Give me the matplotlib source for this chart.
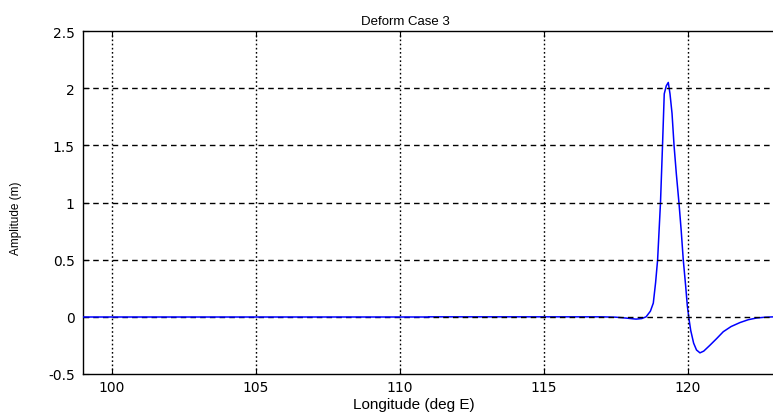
import numpy as np
import matplotlib
matplotlib.use("Agg")
import matplotlib.pyplot as plt
from matplotlib import font_manager

plt.rcParams["font.family"] = ["Liberation Sans", "DejaVu Sans"]

# flat part of the profile (drawn above the grid)
lon_flat = [99.0, 105.0, 111.0]
amp_flat = [0.0, 0.0, 0.0]

# deformation profile
lon = [111.0, 112.0, 113.0, 114.0, 115.0, 116.0, 117.0, 117.5, 117.9, 118.2,
       118.4, 118.55, 118.7, 118.8, 118.88, 118.95, 119.0, 119.05, 119.12, 119.18,
       119.25, 119.32, 119.38, 119.45, 119.52, 119.6, 119.69, 119.77, 119.84, 119.92,
       119.98, 120.04, 120.1, 120.2, 120.3, 120.42, 120.55, 120.76, 121.0, 121.23,
       121.5, 121.81, 122.1, 122.39, 122.7, 123.0]
amp = [0.0, 0.0, 0.0, 0.0, 0.0, 0.0, 0.0, -0.003, -0.012, -0.02,
       -0.015, 0.0, 0.05, 0.12, 0.30, 0.50, 0.75, 1.00, 1.50, 1.95,
       2.02, 2.05, 1.95, 1.78, 1.50, 1.25, 1.00, 0.75, 0.50, 0.28,
       0.10, -0.02, -0.12, -0.23, -0.29, -0.315, -0.30, -0.25, -0.19, -0.13,
       -0.085, -0.05, -0.025, -0.01, -0.003, 0.0]

xticks = [100, 105, 110, 115, 120]
yticks = [-0.5, 0, 0.5, 1, 1.5, 2, 2.5]
ytick_labels = ["-0.5", "0", "0.5", "1", "1.5", "2", "2.5"]

# narrow face for the y label if there is one
names = {f.name for f in font_manager.fontManager.ttflist}
ylab_family = "Liberation Sans Narrow" if "Liberation Sans Narrow" in names else "Liberation Sans"
ylab_size = 9.5 if ylab_family == "Liberation Sans Narrow" else 8.5

fig = plt.figure(figsize=(7.73, 4.14), dpi=100)
ax = fig.add_axes([83 / 773, 39 / 414, 693 / 773, 343 / 414])

ax.plot(lon, amp, color="#0000ff", lw=1.1, zorder=1)
ax.plot(lon_flat, amp_flat, color="#0000ff", lw=1.1, zorder=3)

ax.set_xlim(99, 123.06)
ax.set_ylim(-0.5, 2.5)
ax.set_xticks(xticks)
ax.set_yticks(yticks)
ax.set_yticklabels(ytick_labels)

# grid: dotted verticals, dashed horizontals
for xv in xticks:
    ax.axvline(xv, color="black", lw=1.0, ls=(0, (1.2, 1.8)), zorder=2)
for yv in yticks[1:-1]:
    ax.axhline(yv, color="black", lw=1.0, ls=(0, (4, 3)), zorder=2)

ax.tick_params(direction="in", length=4, top=True, right=False)
ax.tick_params(axis="x", pad=4)
ax.tick_params(axis="y", pad=6)
for lab in ax.get_xticklabels() + ax.get_yticklabels():
    lab.set_family("DejaVu Sans")
    lab.set_fontsize(10)
ax.spines["right"].set_visible(False)
for s in ["left", "bottom", "top"]:
    ax.spines[s].set_linewidth(1.0)

ax.set_title("Deform Case 3", fontsize=9.5, x=0.465, pad=5)
ax.set_xlabel("Longitude (deg E)", fontsize=11)
ax.xaxis.set_label_coords(0.477, -0.068)
ax.set_ylabel("Amplitude (m)", fontsize=ylab_size, family=ylab_family)
ax.yaxis.set_label_coords(-0.088, 0.458)

fig.savefig("out.png", dpi=100)
